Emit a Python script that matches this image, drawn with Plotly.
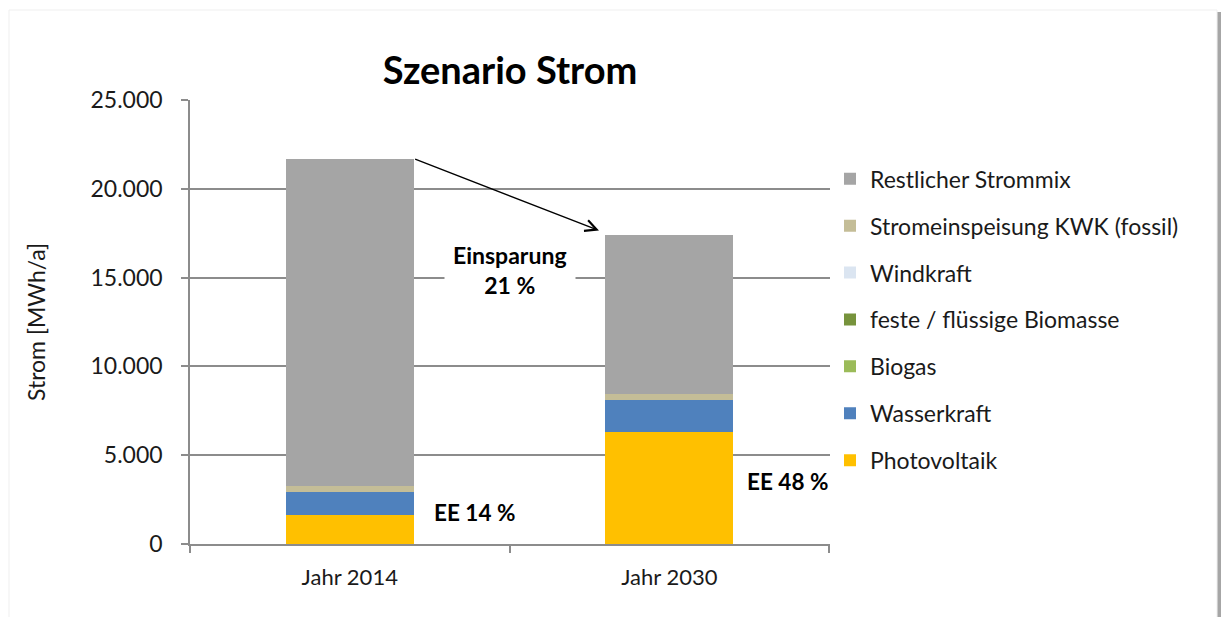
import plotly.graph_objects as go

# Kategorien und Werte (MWh/a)
jahre = ["Jahr 2014", "Jahr 2030"]
photovoltaik = [1650, 6300]
wasserkraft = [1280, 1800]
biogas = [0, 0]
biomasse = [0, 0]
windkraft = [0, 0]
kwk_fossil = [340, 340]
restmix = [18430, 8960]

serien = [
    ("Photovoltaik", photovoltaik, "#FFC000"),
    ("Wasserkraft", wasserkraft, "#4F81BD"),
    ("Biogas", biogas, "#9BBB59"),
    ("feste / flüssige Biomasse", biomasse, "#77933C"),
    ("Windkraft", windkraft, "#DBE5F1"),
    ("Stromeinspeisung KWK (fossil)", kwk_fossil, "#C4BD97"),
    ("Restlicher Strommix", restmix, "#A5A5A5"),
]

FONT = "Lato"
GRID = "#8C8C8C"
TEXT = "#1a1a1a"

fig = go.Figure()
for i, (name, werte, farbe) in enumerate(serien):
    fig.add_trace(go.Bar(
        x=jahre, y=werte, name=name,
        marker=dict(color=farbe, line=dict(width=0)),
        legendgroup=f"g{i}", legendrank=100 - i,
    ))

summe_2014 = sum(s[1][0] for s in serien)
summe_2030 = sum(s[1][1] for s in serien)

fig.update_layout(
    width=1221, height=617,
    margin=dict(l=190, r=391, t=100, b=73),
    paper_bgcolor="white", plot_bgcolor="white",
    barmode="stack", bargap=0.6,
    separators=",.",
    font=dict(family=FONT, size=21, color=TEXT),
    title=dict(text="<b>Szenario Strom</b>", x=0.5, xref="paper",
               y=0.885, yref="container", xanchor="center", yanchor="middle",
               font=dict(family=FONT, size=38, color="#000000")),
    legend=dict(traceorder="grouped", tracegroupgap=14,
                x=1.0, xanchor="left", y=0.505, yanchor="middle",
                font=dict(family=FONT, size=23, color=TEXT),
                bgcolor="rgba(0,0,0,0)"),
    showlegend=True,
)

fig.update_xaxes(
    showline=True, linecolor=GRID, linewidth=1.5,
    ticks="outside", tickson="boundaries", ticklen=7, tickcolor=GRID,
    tickwidth=1.5, ticklabelstandoff=13,
    tickfont=dict(family=FONT, size=22, color=TEXT),
    showgrid=False,
)
fig.update_yaxes(
    range=[0, 25000], dtick=5000, tickformat=",d",
    showline=True, linecolor=GRID, linewidth=1.5,
    ticks="outside", ticklen=7, tickcolor=GRID, tickwidth=1.5,
    showgrid=True, gridcolor=GRID, gridwidth=1.5,
    zeroline=False, ticklabelstandoff=14,
    tickfont=dict(family=FONT, size=23, color=TEXT),
    title=dict(text="Strom [MWh/a]", standoff=38,
               font=dict(family=FONT, size=23, color=TEXT)),
)

# Pfeil von 2014 zu 2030
fig.add_annotation(
    x=0.78, y=summe_2030 + 250, xref="x", yref="y",
    ax=0.2, ay=summe_2014, axref="x", ayref="y",
    text="", showarrow=True, arrowhead=5, arrowsize=1.6,
    arrowwidth=1.4, arrowcolor="#000000", standoff=0, startstandoff=0,
)
fig.add_annotation(
    x=0.5, y=15450, xref="x", yref="y",
    text="<b>Einsparung<br>21 %</b>", showarrow=False,
    bgcolor="white", borderpad=8,
    font=dict(family=FONT, size=23, color="#000000"),
)
fig.add_annotation(
    x=0.39, y=1800, xref="x", yref="y",
    text="<b>EE 14 %</b>", showarrow=False,
    font=dict(family=FONT, size=22.5, color="#000000"),
)
fig.add_annotation(
    x=1.37, y=3500, xref="x", yref="y",
    text="<b>EE 48 %</b>", showarrow=False,
    font=dict(family=FONT, size=22.5, color="#000000"),
)

# Rahmen mit Schatten rechts
fig.add_shape(type="rect", xref="paper", yref="paper",
              x0=(9 - 190) / 640, x1=(1217 - 190) / 640,
              y0=(544 - 640) / 444, y1=(544 - 10) / 444,
              line=dict(color="#EFEFEF", width=1), fillcolor="rgba(0,0,0,0)",
              layer="below")
fig.add_shape(type="rect", xref="paper", yref="paper",
              x0=(1217.5 - 190) / 640, x1=(1221 - 190) / 640,
              y0=(544 - 640) / 444, y1=(544 - 12) / 444,
              line=dict(width=0), fillcolor="#A6A6A6", layer="above")

fig.write_html("out.html")
